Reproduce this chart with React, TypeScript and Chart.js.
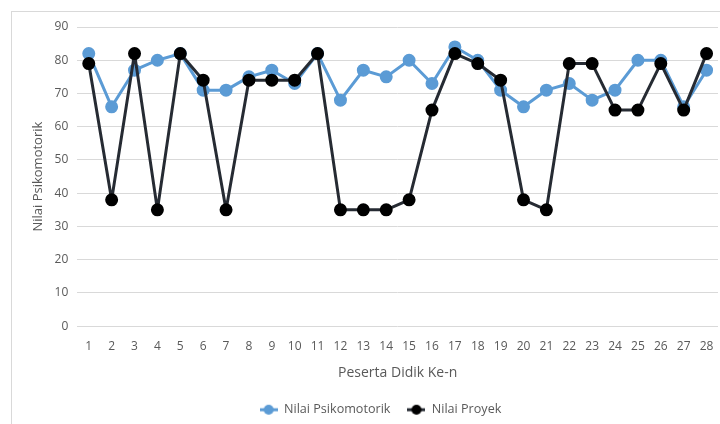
import React, { useEffect, useRef } from "react";
import { Chart, registerables } from "chart.js";

Chart.register(...registerables);

const categories = Array.from({ length: 28 }, (_, i) => String(i + 1));
const psikomotorik = [82, 66, 77, 80, 82, 71, 71, 75, 77, 73, 82, 68, 77, 75, 80, 73, 84, 80, 71, 66, 71, 73, 68, 71, 80, 80, 66, 77];
const proyek = [79, 38, 82, 35, 82, 74, 35, 74, 74, 74, 82, 35, 35, 35, 38, 65, 82, 79, 74, 38, 35, 79, 79, 65, 65, 79, 65, 82];
const seriesNames = ["Nilai Psikomotorik", "Nilai Proyek"];
const yTitle = "Nilai Psikomotorik";
const xTitle = "Peserta Didik Ke-n";

const BLUE = "#5b9bd5";
const DARK = "#262b33";
const TEXT = "#595959";
const FONT = "'Open Sans', 'Liberation Sans', sans-serif";

function legendIcon(line: string, dot: string) {
  const c = document.createElement("canvas");
  c.width = 18;
  c.height = 12;
  const g = c.getContext("2d")!;
  g.strokeStyle = line;
  g.lineWidth = 3;
  g.beginPath();
  g.moveTo(0, 6);
  g.lineTo(18, 6);
  g.stroke();
  g.fillStyle = dot;
  g.beginPath();
  g.arc(9, 6, 5, 0, Math.PI * 2);
  g.fill();
  return c;
}

const legendShift = {
  id: "legendShift",
  afterLayout(chart: any) {
    const l = chart.legend;
    if (!l) return;
    l.left += 11;
    l.right += 11;
  },
};

export default function App() {
  const ref = useRef<HTMLCanvasElement>(null);
  useEffect(() => {
    document.body.style.margin = "0";
    const icons = [legendIcon(BLUE, BLUE), legendIcon(DARK, "#000")];
    const chart = new Chart(ref.current!, {
      type: "line",
      plugins: [legendShift],
      data: {
        labels: categories,
        datasets: [
          {
            label: seriesNames[1],
            data: proyek,
            borderColor: DARK,
            backgroundColor: "#000",
            pointBackgroundColor: "#000",
            pointBorderColor: "#000",
            borderWidth: 3,
            borderJoinStyle: "round",
            borderCapStyle: "round",
            pointRadius: 5,
            tension: 0,
          },
          {
            label: seriesNames[0],
            data: psikomotorik,
            borderColor: BLUE,
            backgroundColor: BLUE,
            pointBackgroundColor: BLUE,
            pointBorderColor: BLUE,
            borderWidth: 3,
            borderJoinStyle: "round",
            borderCapStyle: "round",
            pointRadius: 5,
            tension: 0,
          },
        ],
      },
      options: {
        responsive: false,
        animation: false,
        layout: { autoPadding: false, padding: { left: 21, right: 2, top: 27, bottom: -2 } },
        plugins: {
          tooltip: { enabled: false },
          legend: {
            position: "bottom",
            labels: {
              usePointStyle: true,
              pointStyleWidth: 18,
              boxHeight: 12,
              padding: 17,
              color: TEXT,
              font: { family: FONT, size: 12.6 },
              generateLabels: (ch: any) =>
                [1, 0].map((i) => ({
                  text: ch.data.datasets[i].label,
                  pointStyle: icons[i === 1 ? 0 : 1],
                  fillStyle: "transparent",
                  strokeStyle: "transparent",
                  lineWidth: 0,
                  fontColor: TEXT,
                  datasetIndex: i,
                  hidden: false,
                })),
            },
          },
        },
        scales: {
          x: {
            offset: true,
            grid: { display: false },
            border: { display: false },
            ticks: { color: TEXT, font: { family: FONT, size: 12 }, maxRotation: 0, autoSkip: false, padding: 5 },
            title: { display: true, text: xTitle, color: TEXT, font: { family: FONT, size: 14 }, padding: { top: 6, bottom: 5 } },
          },
          y: {
            min: 0,
            max: 90,
            ticks: { stepSize: 10, color: TEXT, font: { family: FONT, size: 12 }, padding: 9 },
            grid: { color: "#d9d9d9", lineWidth: 1, drawTicks: false },
            border: { display: false },
            title: { display: true, text: yTitle, color: TEXT, font: { family: FONT, size: 13 }, padding: { top: 9, bottom: 0 } },
          },
        },
      },
    });
    return () => chart.destroy();
  }, []);
  return (
    <div style={{ position: "relative", width: 720, height: 424, overflow: "hidden" }}>
      <div
        style={{
          position: "absolute",
          left: 11,
          top: 11,
          width: 720,
          height: 440,
          border: "1px solid #d9d9d9",
          boxSizing: "border-box",
        }}
      />
      <canvas ref={ref} width={720} height={424} style={{ position: "absolute", left: 0, top: 0 }} />
    </div>
  );
}
